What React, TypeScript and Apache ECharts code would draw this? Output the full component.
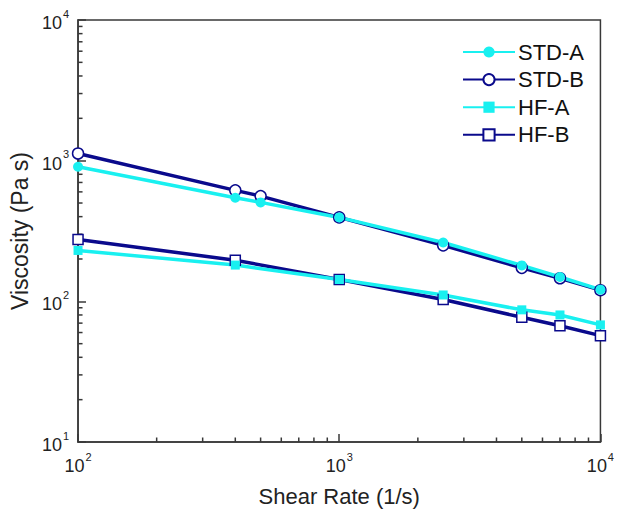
import React, { useEffect, useRef } from 'react';
import * as echarts from 'echarts';

const stdShear = [100, 400, 500, 1000, 2500, 5000, 7000, 10000];
const hfShear = [100, 400, 1000, 2500, 5000, 7000, 10000];
const stdA = [905, 545, 505, 395, 262, 180, 149, 121];
const stdB = [1125, 615, 560, 395, 250, 173, 146, 120];
const hfA = [230, 181, 143, 111, 87, 80, 68];
const hfB = [275, 196, 143, 103, 77, 67, 57];
const seriesNames = ['STD-A', 'STD-B', 'HF-A', 'HF-B'];
const xRange = [100, 10000];
const yRange = [10, 10000];
const xTitle = 'Shear Rate (1/s)';
const yTitle = 'Viscosity (Pa s)';

const CYAN = '#19F0F0';
const NAVY = '#0A0A8C';
const AXIS = '#383838';
const FONT = '"Liberation Sans", Arial, sans-serif';

const pairs = (xs: number[], ys: number[]) => xs.map((x, i) => [x, ys[i]]);

const minorValues = (lo: number, hi: number) => {
  const out: number[] = [];
  for (let d = lo; d < hi; d *= 10) {
    for (let k = 2; k <= 9; k++) out.push(d * k);
  }
  return out;
};

const powLabel = (v: number) => `{b|10}{s|${Math.round(Math.log10(v))}}`;

const richLabel = {
  b: { fontSize: 18, fontFamily: FONT, color: '#222', lineHeight: 24, verticalAlign: 'bottom' },
  s: { fontSize: 11, fontFamily: FONT, color: '#222', lineHeight: 24, verticalAlign: 'top', padding: [0, 0, 0, 1] },
};

export default function App() {
  const ref = useRef<HTMLDivElement>(null);
  useEffect(() => {
    if (!ref.current) return;
    const chart = echarts.init(ref.current, null, { renderer: 'svg' });
    const mk = (name: string, data: number[][], color: string, symbol: string, size: number, open: boolean) => ({
      name,
      type: 'line',
      data,
      symbol,
      symbolSize: size,
      showSymbol: true,
      lineStyle: { color, width: 3.5 },
      itemStyle: open
        ? { color: '#ffffff', borderColor: NAVY, borderWidth: 1.5 }
        : { color, borderColor: color, borderWidth: 0 },
      emphasis: { disabled: true },
    });
    chart.setOption({
      animation: false,
      backgroundColor: '#ffffff',
      grid: { left: 71, right: 14, top: 20, bottom: 65, show: true, borderColor: AXIS, borderWidth: 1.5, backgroundColor: 'transparent' },
      legend: {
        data: seriesNames,
        orient: 'vertical',
        left: 462,
        top: 41,
        padding: 0,
        itemWidth: 52,
        itemHeight: 14,
        itemGap: 5.6,
        textStyle: { fontSize: 22, fontFamily: FONT, color: '#111', padding: [0, 0, 0, -2], lineHeight: 18 },
      },
      xAxis: {
        type: 'log',
        logBase: 10,
        min: xRange[0],
        max: xRange[1],
        name: xTitle,
        nameLocation: 'middle',
        nameGap: 43,
        nameTextStyle: { fontSize: 22, fontFamily: FONT, color: '#222' },
        axisLine: { show: true, lineStyle: { color: AXIS, width: 1.5 } },
        axisTick: { show: true, inside: true, length: 8, lineStyle: { color: AXIS, width: 1.5 } },
        axisLabel: { formatter: powLabel, rich: richLabel, margin: 9 },
        splitLine: { show: false },
      },
      yAxis: {
        type: 'log',
        logBase: 10,
        min: yRange[0],
        max: yRange[1],
        name: yTitle,
        nameLocation: 'middle',
        nameGap: 39,
        nameTextStyle: { fontSize: 23, fontFamily: FONT, color: '#222' },
        axisLine: { show: true, lineStyle: { color: AXIS, width: 1.5 } },
        axisTick: { show: true, inside: true, length: 8, lineStyle: { color: AXIS, width: 1.5 } },
        axisLabel: { formatter: powLabel, rich: richLabel, margin: 9 },
        splitLine: { show: false },
      },
      series: [
        mk('STD-B', pairs(stdShear, stdB), NAVY, 'circle', 11, true),
        mk('HF-B', pairs(hfShear, hfB), NAVY, 'rect', 10, true),
        mk('STD-A', pairs(stdShear, stdA), CYAN, 'circle', 10, false),
        mk('HF-A', pairs(hfShear, hfA), CYAN, 'rect', 9, false),
      ],
    });

    const graphics: any[] = [];
    const x0 = chart.convertToPixel({ xAxisIndex: 0 }, xRange[0]) as number;
    const yBottom = chart.convertToPixel({ yAxisIndex: 0 }, yRange[0]) as number;
    minorValues(xRange[0], xRange[1]).forEach((v) => {
      const px = chart.convertToPixel({ xAxisIndex: 0 }, v) as number;
      graphics.push({ type: 'line', shape: { x1: px, y1: yBottom, x2: px, y2: yBottom - 4.5 }, style: { stroke: AXIS, lineWidth: 1.5 }, silent: true });
    });
    minorValues(yRange[0], yRange[1]).forEach((v) => {
      const py = chart.convertToPixel({ yAxisIndex: 0 }, v) as number;
      graphics.push({ type: 'line', shape: { x1: x0, y1: py, x2: x0 + 4.5, y2: py }, style: { stroke: AXIS, lineWidth: 1.5 }, silent: true });
    });
    chart.setOption({ graphic: graphics });

    return () => chart.dispose();
  }, []);
  return <div ref={ref} style={{ width: 617, height: 512, position: 'absolute', left: 0, top: 0 }} />;
}
